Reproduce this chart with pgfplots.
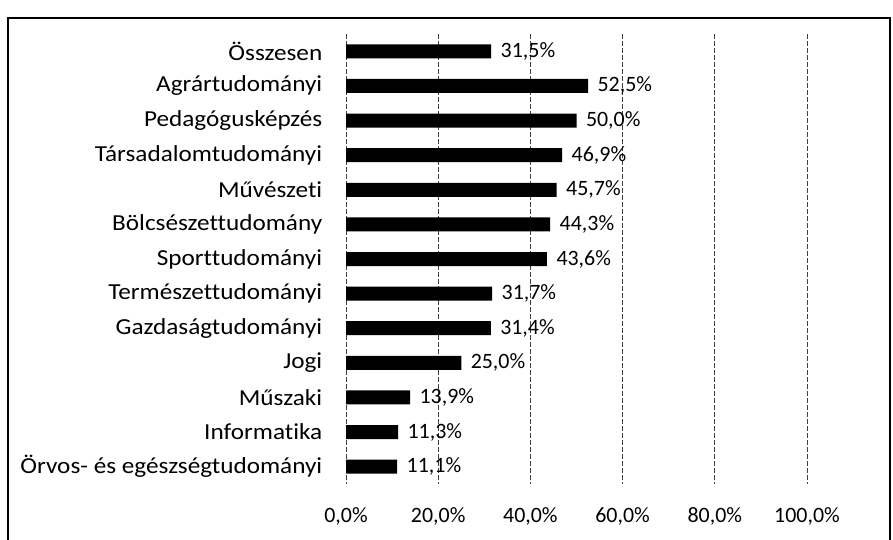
\documentclass[border=0pt]{standalone}
\usepackage{fontspec}
\setmainfont{Carlito}[Ligatures=NoCommon]
\newfontfamily\catfont{Carlito}[FakeStretch=1.1, Ligatures=NoCommon]
\usepackage{pgfplots}
\pgfplotsset{compat=1.18}

\begin{document}
\begin{tikzpicture}
  \useasboundingbox (0,0) rectangle (893bp,540bp);
  % outer frame of the chart
  \draw[line width=1.2bp] (8bp,-5bp) rectangle (890bp,522bp);
  \begin{axis}[
      at={(346bp,56bp)}, anchor=south west,
      scale only axis,
      width=461bp, height=450bp,
      xbar, bar width=14bp,
      xmin=0, xmax=100,
      ymin=-0.5, ymax=12.5,
      y dir=reverse,
      axis line style={draw=none},
      xtick={0,20,40,60,80,100},
      ytick={0,...,12},
      xmajorgrids,
      major grid style={black!75, line width=0.8bp, dash pattern=on 5bp off 2bp},
      tick style={draw=none},
      /pgf/number format/assume math mode=true,
      xticklabel={\pgfmathprintnumber[fixed,fixed zerofill,precision=1,use comma]{\tick}\%},
      xticklabel style={font=\fontsize{22}{26}\selectfont, yshift=-20bp},
      yticklabels={Összesen, Agrártudományi, Pedagógusképzés, Társadalomtudományi,
        Művészeti, Bölcsészettudomány, Sporttudományi, Természettudományi,
        Gazdaságtudományi, Jogi, Műszaki, Informatika, Örvos- és egészségtudományi},
      yticklabel style={font=\catfont\fontsize{23}{27}\selectfont, anchor=east, xshift=-16bp},
      nodes near coords={\pgfmathprintnumber[fixed,fixed zerofill,precision=1,use comma]{\pgfplotspointmeta}\%},
      nodes near coords style={font=\fontsize{22}{26}\selectfont, anchor=west, xshift=6bp},
      point meta=x,
    ]
    \addplot[draw=none, fill=black] coordinates {
      (31.5,0)
      (52.5,1)
      (50.0,2)
      (46.9,3)
      (45.7,4)
      (44.3,5)
      (43.6,6)
      (31.7,7)
      (31.4,8)
      (25.0,9)
      (13.9,10)
      (11.3,11)
      (11.1,12) };
  \end{axis}
\end{tikzpicture}
\end{document}
